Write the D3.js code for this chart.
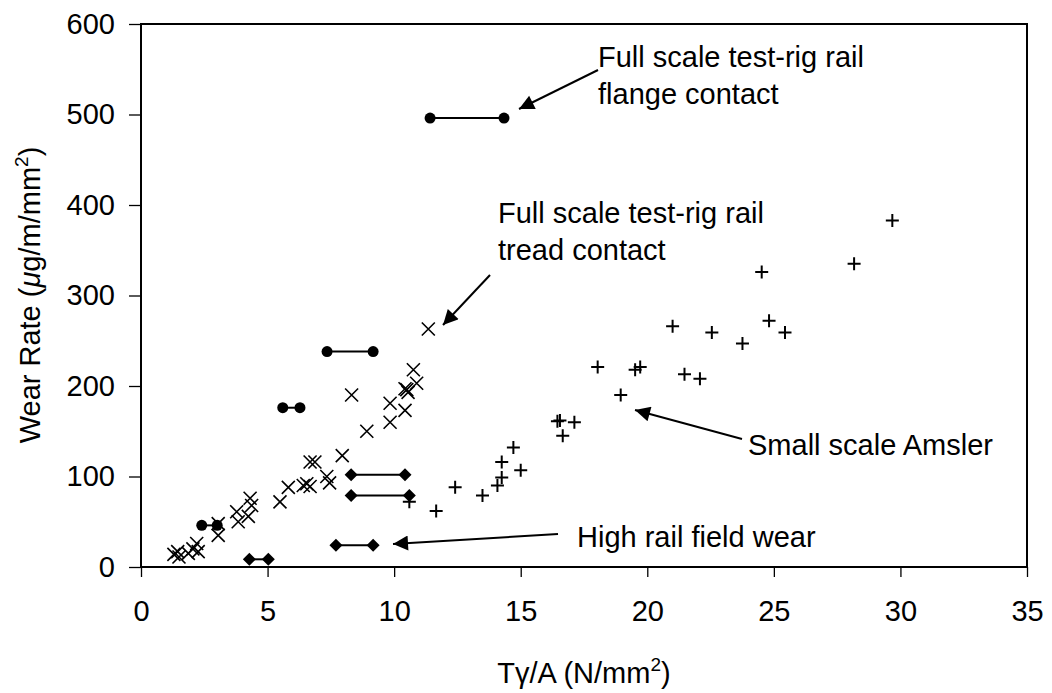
<!DOCTYPE html>
<html>
<head>
<meta charset="utf-8">
<script src="https://cdn.jsdelivr.net/npm/d3@7/dist/d3.min.js"></script>
<style>
  html, body { margin: 0; padding: 0; background: #fff; }
  svg { display: block; font-family: "Liberation Sans", Arial, sans-serif; }
</style>
</head>
<body>
<svg id="chart" width="1052" height="693"></svg>
<script>
// Full scale test-rig rail (circles joined by a line: range of Tγ/A at one wear rate)
const rigX0 = [2.40, 5.60, 7.35, 11.42];
const rigX1 = [3.01, 6.28, 9.17, 14.34];
const rigY  = [46, 176, 238, 496];

// High rail field wear (diamonds joined by a line)
const fieldX0 = [4.28, 7.70, 8.30, 8.30];
const fieldX1 = [5.03, 9.17, 10.60, 10.43];
const fieldY  = [8.5, 24, 79, 102];

// Full scale test-rig rail, tread contact (crosses)
const treadX = [1.30, 1.45, 1.50, 1.87, 2.05, 2.20, 2.26, 3.05, 3.05, 3.78, 3.84, 4.24, 4.31, 4.37,
                5.49, 5.82, 6.41, 6.55, 6.68, 6.68, 6.87, 7.34, 7.45, 7.95, 8.32, 8.92, 9.84, 9.84,
                10.43, 10.43, 10.50, 10.55, 10.76, 10.89, 11.35];
const treadY = [14, 17, 11, 15, 20, 26, 17, 48, 35, 61, 50, 56, 76, 68,
                72, 88, 90, 92, 89, 116, 116, 100, 93, 123, 190, 150, 181, 160,
                173, 197, 196, 193, 218, 203, 263];

// Small scale Amsler (plus signs)
const amslerX = [10.60, 11.66, 12.41, 13.49, 14.08, 14.25, 14.25, 14.71, 15.00, 16.45, 16.55, 16.66,
                 17.12, 18.04, 18.95, 19.52, 19.72, 21.00, 21.47, 22.08, 22.55, 23.76, 24.52, 24.81,
                 25.44, 28.17, 29.68];
const amslerY = [72, 62, 88, 79, 90, 99, 116, 132, 107, 161, 162, 145,
                 160, 221, 190, 218, 221, 266, 213, 208, 259, 247, 326, 272,
                 259, 335, 383];

const xTicks = [0, 5, 10, 15, 20, 25, 30, 35];
const yTicks = [0, 100, 200, 300, 400, 500, 600];

(function draw() {
  const svg = d3.select("#chart");
  const pL = 141, pR = 1027, pT = 24, pB = 567;

  const x = d3.scaleLinear().domain([0, 35]).range([pL, pR]);
  const y = d3.scaleLinear().domain([0, 600]).range([pB, pT]);

  const FONT = 29;
  const SUP = 19;

  // arrow head
  svg.append("defs").append("marker")
    .attr("id", "arrow")
    .attr("viewBox", "0 0 10 10")
    .attr("refX", 10).attr("refY", 5)
    .attr("markerWidth", 24).attr("markerHeight", 15)
    .attr("markerUnits", "userSpaceOnUse")
    .attr("orient", "auto")
    .append("path").attr("d", "M0,0 L10,5 L0,10 z").attr("fill", "#000");

  // axes
  const xAxis = d3.axisBottom(x).tickValues(xTicks).tickSize(10).tickPadding(23).tickFormat(d3.format("d"));
  const yAxis = d3.axisLeft(y).tickValues(yTicks).tickSize(12).tickPadding(14).tickFormat(d3.format("d"));

  const gx = svg.append("g").attr("transform", `translate(0,${pB})`).call(xAxis);
  const gy = svg.append("g").attr("transform", `translate(${pL},0)`).call(yAxis);
  [gx, gy].forEach(g => {
    g.select(".domain").remove();
    g.selectAll(".tick line").attr("stroke", "#000").attr("stroke-width", 1.3);
    g.selectAll(".tick text").attr("fill", "#000").style("font-size", FONT + "px")
      .style("font-family", "'Liberation Sans', Arial, sans-serif");
  });

  // plot frame
  svg.append("rect")
    .attr("x", pL).attr("y", pT)
    .attr("width", pR - pL).attr("height", pB - pT)
    .attr("fill", "none").attr("stroke", "#000").attr("stroke-width", 2);

  const plot = svg.append("g");

  // test-rig ranges
  const rig = rigY.map((v, i) => ({ x0: rigX0[i], x1: rigX1[i], y: v }));
  plot.selectAll(".rigLine").data(rig).join("line")
    .attr("x1", d => x(d.x0)).attr("x2", d => x(d.x1))
    .attr("y1", d => y(d.y)).attr("y2", d => y(d.y))
    .attr("stroke", "#000").attr("stroke-width", 2);
  plot.selectAll(".rigDot").data(rig.flatMap(d => [{ x: d.x0, y: d.y }, { x: d.x1, y: d.y }])).join("circle")
    .attr("cx", d => x(d.x)).attr("cy", d => y(d.y)).attr("r", 5.5).attr("fill", "#000");

  // field wear ranges
  const field = fieldY.map((v, i) => ({ x0: fieldX0[i], x1: fieldX1[i], y: v }));
  plot.selectAll(".fieldLine").data(field).join("line")
    .attr("x1", d => x(d.x0)).attr("x2", d => x(d.x1))
    .attr("y1", d => y(d.y)).attr("y2", d => y(d.y))
    .attr("stroke", "#000").attr("stroke-width", 2);
  const diamond = "M0,-6.5 L6.5,0 L0,6.5 L-6.5,0 Z";
  plot.selectAll(".fieldDot").data(field.flatMap(d => [{ x: d.x0, y: d.y }, { x: d.x1, y: d.y }])).join("path")
    .attr("d", diamond)
    .attr("transform", d => `translate(${x(d.x)},${y(d.y)})`)
    .attr("fill", "#000");

  // tread contact crosses
  const cross = "M-6.5,-6.5 L6.5,6.5 M-6.5,6.5 L6.5,-6.5";
  plot.selectAll(".tread").data(treadX.map((v, i) => ({ x: v, y: treadY[i] }))).join("path")
    .attr("d", cross)
    .attr("transform", d => `translate(${x(d.x)},${y(d.y)})`)
    .attr("stroke", "#000").attr("stroke-width", 1.6).attr("fill", "none");

  // Amsler plus signs
  const plus = "M-6.5,0 L6.5,0 M0,-6.5 L0,6.5";
  plot.selectAll(".amsler").data(amslerX.map((v, i) => ({ x: v, y: amslerY[i] }))).join("path")
    .attr("d", plus)
    .attr("transform", d => `translate(${x(d.x)},${y(d.y)})`)
    .attr("stroke", "#000").attr("stroke-width", 2).attr("fill", "none");

  // annotations
  function label(lines, tx, ty) {
    const t = svg.append("text").attr("x", tx).attr("y", ty)
      .style("font-size", FONT + "px").attr("fill", "#000");
    lines.forEach((s, i) => t.append("tspan").attr("x", tx).attr("dy", i === 0 ? 0 : 37).text(s));
  }
  function arrow(x1, y1, x2, y2) {
    svg.append("line").attr("x1", x1).attr("y1", y1).attr("x2", x2).attr("y2", y2)
      .attr("stroke", "#000").attr("stroke-width", 2).attr("marker-end", "url(#arrow)");
  }
  label(["Full scale test-rig rail", "flange contact"], 598, 67);
  arrow(598, 70, 519, 109);
  label(["Full scale test-rig rail", "tread contact"], 498, 223);
  arrow(490, 275, 443, 325);
  label(["Small scale Amsler"], 748, 455);
  arrow(742, 439, 635, 410);
  label(["High rail field wear"], 577, 547);
  arrow(558, 534, 393, 544);

  // axis titles
  const xt = svg.append("text").attr("x", 584).attr("y", 683).attr("text-anchor", "middle")
    .style("font-size", FONT + "px").attr("fill", "#000");
  xt.append("tspan").text("T\u03b3/A (N/mm");
  xt.append("tspan").attr("dy", -12).style("font-size", SUP + "px").text("2");
  xt.append("tspan").attr("dy", 12).text(")");

  const yt = svg.append("text")
    .attr("transform", `translate(40,295) rotate(-90)`)
    .attr("text-anchor", "middle")
    .style("font-size", FONT + "px").attr("fill", "#000");
  yt.append("tspan").text("Wear Rate (");
  yt.append("tspan").style("font-style", "italic").text("\u03bc");
  yt.append("tspan").text("g/m/mm");
  yt.append("tspan").attr("dy", -12).style("font-size", SUP + "px").text("2");
  yt.append("tspan").attr("dy", 12).text(")");
})();
</script>
</body>
</html>
